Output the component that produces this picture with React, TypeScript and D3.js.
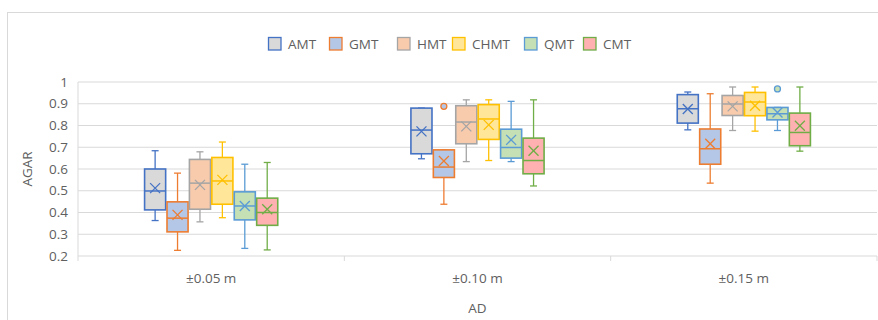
// Box plot of AGAR by AD for six methods (Excel-style box & whisker).
import * as d3 from "d3";

const CATEGORIES = ["±0.05 m", "±0.10 m", "±0.15 m"];
const SERIES = ["AMT", "GMT", "HMT", "CHMT", "QMT", "CMT"];
const FILLS = ["#d9d9d9", "#b4c7e7", "#f8cbad", "#ffe699", "#c5e0b4", "#ffb1b1"];
const STROKES = ["#4472c4", "#ed7d31", "#a5a5a5", "#ffc000", "#5b9bd5", "#70ad47"];
const Y_TICKS = [0.2, 0.3, 0.4, 0.5, 0.6, 0.7, 0.8, 0.9, 1];

// per category: [min, q1, median, q3, max, mean]
const AMT = [
  [0.363, 0.412, 0.499, 0.6, 0.684, 0.512],
  [0.647, 0.67, 0.779, 0.88, 0.88, 0.773],
  [0.78, 0.811, 0.877, 0.942, 0.954, 0.876],
];
const GMT = [
  [0.226, 0.311, 0.374, 0.449, 0.581, 0.389],
  [0.438, 0.561, 0.609, 0.688, 0.688, 0.637],
  [0.535, 0.622, 0.693, 0.784, 0.946, 0.716],
];
const HMT = [
  [0.357, 0.415, 0.535, 0.644, 0.679, 0.527],
  [0.634, 0.716, 0.816, 0.891, 0.918, 0.796],
  [0.777, 0.846, 0.899, 0.938, 0.977, 0.888],
];
const CHMT = [
  [0.376, 0.438, 0.545, 0.653, 0.724, 0.55],
  [0.639, 0.736, 0.83, 0.896, 0.918, 0.803],
  [0.774, 0.845, 0.908, 0.952, 0.977, 0.891],
];
const QMT = [
  [0.235, 0.366, 0.43, 0.495, 0.622, 0.43],
  [0.634, 0.65, 0.699, 0.783, 0.911, 0.734],
  [0.777, 0.826, 0.854, 0.883, 0.883, 0.86],
];
const CMT = [
  [0.228, 0.341, 0.4, 0.466, 0.63, 0.415],
  [0.522, 0.578, 0.639, 0.742, 0.918, 0.684],
  [0.682, 0.707, 0.768, 0.857, 0.977, 0.799],
];
// [series index, category index, value]
const OUTLIERS = [
  [1, 1, 0.888],
  [4, 2, 0.968],
];

const W = 878;
const H = 320;
const PLOT = { left: 78, right: 877, top: 82, bottom: 256 };
const FONT = "'Open Sans', 'Noto Sans', sans-serif";
const TEXT = "#606060";
const GRID = "#d9d9d9";

export default function App() {
  const stats = [AMT, GMT, HMT, CHMT, QMT, CMT];

  const y = d3.scaleLinear().domain([0.2, 1]).range([PLOT.bottom, PLOT.top]);
  const x = d3.scaleBand().domain(CATEGORIES).range([PLOT.left, PLOT.right]);
  const bw = x.bandwidth();
  const inner = d3
    .scaleBand()
    .domain(SERIES)
    .range([bw * 0.25, bw * 0.75])
    .paddingInner(0.06);
  const boxW = inner.bandwidth();
  const cap = 3.5;
  const mx = 5;

  const legendX = [268, 329, 397, 452, 524, 583];

  return (
    <svg
      width={W}
      height={H}
      style={{ position: "absolute", left: 0, top: 0, background: "#fff" }}
      fontFamily={FONT}
    >
      {/* chart border (partially visible) */}
      <line x1={7} x2={W} y1={12.5} y2={12.5} stroke={GRID} />
      <line x1={7.5} x2={7.5} y1={12} y2={H} stroke={GRID} />

      {/* legend */}
      {SERIES.map((s, i) => (
        <g key={s} transform={`translate(${legendX[i]},37)`}>
          <rect x={0.5} y={0.5} width={12.5} height={12.5} fill={FILLS[i]} stroke={STROKES[i]} strokeWidth={1.3} />
          <text x={20} y={12} fontSize={13.5} fill={TEXT}>
            {s}
          </text>
        </g>
      ))}

      {/* gridlines */}
      {Y_TICKS.map((t) => (
        <line key={t} x1={PLOT.left} x2={PLOT.right} y1={y(t)} y2={y(t)} stroke={GRID} strokeWidth={1.2} />
      ))}
      <line x1={PLOT.left} x2={PLOT.left} y1={PLOT.top} y2={PLOT.bottom + 5} stroke={GRID} />
      {[...CATEGORIES.map((c) => x(c) as number), PLOT.right].slice(1).map((tx) => (
        <line key={tx} x1={tx} x2={tx} y1={PLOT.bottom} y2={PLOT.bottom + 5} stroke={GRID} />
      ))}

      {/* y tick labels */}
      {Y_TICKS.map((t) => (
        <text key={t} x={68} y={y(t) + 4.5} textAnchor="end" fontSize={13.5} fill={TEXT}>
          {d3.format("~g")(t)}
        </text>
      ))}
      <text
        transform={`translate(27,${(PLOT.top + PLOT.bottom) / 2}) rotate(-90)`}
        textAnchor="middle"
        dy={4.5}
        fontSize={13.5}
        fill={TEXT}
      >
        AGAR
      </text>

      {/* category labels */}
      {CATEGORIES.map((c) => (
        <text key={c} x={(x(c) as number) + bw / 2} y={283} textAnchor="middle" fontSize={13.5} fill={TEXT}>
          {c}
        </text>
      ))}
      <text x={(PLOT.left + PLOT.right) / 2} y={313} textAnchor="middle" fontSize={13.5} fill={TEXT}>
        AD
      </text>

      {/* boxes */}
      {SERIES.map((s, si) =>
        CATEGORIES.map((c, ci) => {
          const [mn, q1, med, q3, mxv, mean] = stats[si][ci];
          const x0 = (x(c) as number) + (inner(s) as number);
          const cx = x0 + boxW / 2;
          const stroke = STROKES[si];
          return (
            <g key={s + c} stroke={stroke} fill="none">
              <line x1={cx} x2={cx} y1={y(mxv)} y2={y(q3)} strokeWidth={1.3} />
              <line x1={cx} x2={cx} y1={y(q1)} y2={y(mn)} strokeWidth={1.3} />
              <line x1={cx - cap} x2={cx + cap} y1={y(mxv)} y2={y(mxv)} strokeWidth={1.3} />
              <line x1={cx - cap} x2={cx + cap} y1={y(mn)} y2={y(mn)} strokeWidth={1.3} />
              <rect x={x0} y={y(q3)} width={boxW} height={y(q1) - y(q3)} fill={FILLS[si]} strokeWidth={1.6} />
              <line x1={x0} x2={x0 + boxW} y1={y(med)} y2={y(med)} strokeWidth={1.5} />
              <line x1={cx - mx} x2={cx + mx} y1={y(mean) - mx} y2={y(mean) + mx} strokeWidth={1.3} />
              <line x1={cx - mx} x2={cx + mx} y1={y(mean) + mx} y2={y(mean) - mx} strokeWidth={1.3} />
            </g>
          );
        })
      )}

      {/* outliers */}
      {OUTLIERS.map(([si, ci, v]) => {
        const c = CATEGORIES[ci];
        const cx = (x(c) as number) + (inner(SERIES[si]) as number) + boxW / 2;
        return (
          <circle key={`${si}-${ci}`} cx={cx} cy={y(v)} r={3} fill={FILLS[si]} stroke={STROKES[si]} strokeWidth={1.3} />
        );
      })}
    </svg>
  );
}
